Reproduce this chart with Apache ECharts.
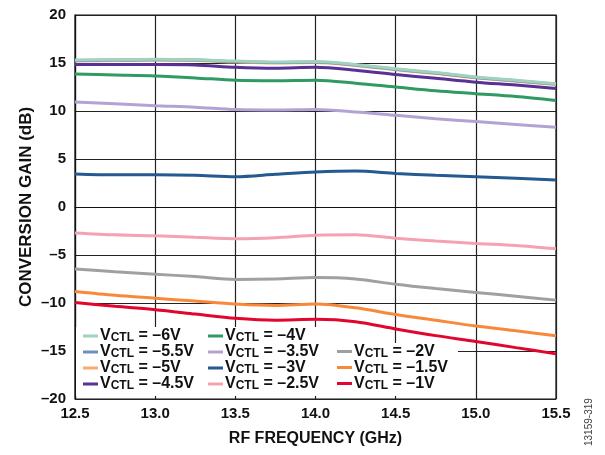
<!DOCTYPE html>
<html>
<head>
<meta charset="utf-8">
<script src="https://cdn.jsdelivr.net/npm/echarts@6/dist/echarts.min.js"></script>
<style>
  html, body { margin: 0; padding: 0; background: #fff; }
  #chart { width: 605px; height: 455px; }
</style>
</head>
<body>
<div id="chart"></div>
<script>
const freqs = [12.5, 12.75, 13.0, 13.25, 13.5, 13.75, 14.0, 14.25, 14.5, 14.75, 15.0, 15.25, 15.5];
const yTicks = [-20, -15, -10, -5, 0, 5, 10, 15, 20];

const gainM6 = [15.3, 15.35, 15.4, 15.35, 15.2, 15.1, 15.15, 14.85, 14.4, 14.0, 13.55, 13.2, 12.85];
const gainM55 = [15.25, 15.3, 15.35, 15.3, 15.15, 15.05, 15.1, 14.8, 14.35, 13.95, 13.5, 13.15, 12.8];
const gainM5 = [15.2, 15.25, 15.3, 15.25, 15.1, 15.0, 15.05, 14.75, 14.3, 13.9, 13.45, 13.1, 12.75];
const gainM45 = [14.85, 14.85, 14.85, 14.8, 14.55, 14.45, 14.55, 14.25, 13.8, 13.4, 13.0, 12.7, 12.35];
const gainM4 = [13.85, 13.75, 13.65, 13.45, 13.2, 13.15, 13.2, 12.9, 12.5, 12.1, 11.8, 11.5, 11.1];
const gainM35 = [10.95, 10.75, 10.55, 10.4, 10.15, 10.1, 10.15, 9.9, 9.55, 9.2, 8.9, 8.6, 8.3];
const gainM3 = [3.45, 3.35, 3.35, 3.3, 3.15, 3.4, 3.65, 3.75, 3.5, 3.3, 3.15, 3.0, 2.8];
const gainM25 = [-2.7, -2.9, -3.0, -3.15, -3.3, -3.2, -2.95, -2.9, -3.25, -3.55, -3.8, -4.0, -4.35];
const gainM2 = [-6.45, -6.75, -7.0, -7.25, -7.55, -7.5, -7.35, -7.5, -8.05, -8.5, -8.9, -9.3, -9.7];
const gainM15 = [-8.8, -9.2, -9.5, -9.8, -10.1, -10.25, -10.1, -10.5, -11.2, -11.8, -12.4, -12.9, -13.4];
const gainM1 = [-9.95, -10.35, -10.7, -11.15, -11.6, -11.8, -11.7, -11.95, -12.7, -13.4, -14.0, -14.65, -15.3];

const seriesDefs = [
    { name: "–6V", data: gainM6, color: "#9fd3bd" },
    { name: "–5.5V", data: gainM55, color: "#6e8fba" },
    { name: "–5V", data: gainM5, color: "#fbaa6e" },
    { name: "–4.5V", data: gainM45, color: "#573196" },
    { name: "–4V", data: gainM4, color: "#2f9a62" },
    { name: "–3.5V", data: gainM35, color: "#b3a3d4" },
    { name: "–3V", data: gainM3, color: "#245a8f" },
    { name: "–2.5V", data: gainM25, color: "#f4a1b2" },
    { name: "–2V", data: gainM2, color: "#a0a0a0" },
    { name: "–1.5V", data: gainM15, color: "#f8893a" },
    { name: "–1V", data: gainM1, color: "#e0062e" }
];

const FONT = "Liberation Sans, Arial, sans-serif";

const chart = echarts.init(document.getElementById("chart"));

function legendBlock(names, left, top) {
    return {
        data: names,
        orient: "vertical",
        left: left,
        top: top,
        padding: 0,
        itemGap: 0,
        icon: "rect",
        itemWidth: 15,
        itemHeight: 3,
        z: 10,
        formatter: function (name) {
            return "{v|V}{s|CTL}{t| = " + name + "}";
        },
        textStyle: {
            fontFamily: FONT,
            fontWeight: "bold",
            color: "#111",
            padding: [0, 0, 0, -3],
            rich: {
                v: { fontSize: 16, fontWeight: "bold", fontFamily: FONT, color: "#111", lineHeight: 15.5 },
                s: { fontSize: 12, fontWeight: "bold", fontFamily: FONT, color: "#111", lineHeight: 6, verticalAlign: "bottom" },
                t: { fontSize: 16, fontWeight: "bold", fontFamily: FONT, color: "#111", lineHeight: 15.5 }
            }
        }
    };
}

chart.setOption({
    animation: false,
    backgroundColor: "#fff",
    grid: {
        left: 75,
        right: 49,
        top: 15,
        bottom: 56,
        show: true,
        borderColor: "#111",
        borderWidth: 1.2,
        backgroundColor: "transparent"
    },
    legend: [
        legendBlock(["–6V", "–5.5V", "–5V", "–4.5V"], 83, 328),
        legendBlock(["–4V", "–3.5V", "–3V", "–2.5V"], 208, 328),
        legendBlock(["–2V", "–1.5V", "–1V"], 337, 343.5)
    ],
    graphic: [
        {
            type: "rect",
            z: 5,
            shape: { x: 76, y: 327, width: 256, height: 69 },
            style: { fill: "#fff" }
        },
        {
            type: "rect",
            z: 5,
            shape: { x: 330, y: 343, width: 128, height: 53 },
            style: { fill: "#fff" }
        },
        {
            type: "text",
            x: 584,
            y: 446,
            rotation: Math.PI / 2,
            style: {
                text: "13159-319",
                fontSize: 10,
                fontFamily: FONT,
                fill: "#444"
            }
        }
    ],
    xAxis: {
        type: "value",
        min: 12.5,
        max: 15.5,
        interval: 0.5,
        name: "RF FREQUENCY (GHz)",
        nameLocation: "middle",
        nameGap: 32,
        nameTextStyle: { fontFamily: FONT, fontWeight: "bold", fontSize: 16, color: "#111" },
        axisLine: { lineStyle: { color: "#111", width: 1.2 } },
        axisTick: { show: false },
        axisLabel: {
            fontFamily: FONT,
            fontWeight: "bold",
            fontSize: 15,
            color: "#111",
            margin: 7,
            formatter: function (v) { return v.toFixed(1); }
        },
        splitLine: { lineStyle: { color: "#222", width: 1.2 } }
    },
    yAxis: {
        type: "value",
        min: yTicks[0],
        max: yTicks[yTicks.length - 1],
        interval: 5,
        name: "CONVERSION GAIN (dB)",
        nameLocation: "middle",
        nameGap: 40,
        nameMoveOverlap: false,
        nameTextStyle: { fontFamily: FONT, fontWeight: "bold", fontSize: 17, color: "#111" },
        axisLine: { lineStyle: { color: "#111", width: 1.2 } },
        axisTick: { show: false },
        axisLabel: {
            fontFamily: FONT,
            fontWeight: "bold",
            fontSize: 15,
            color: "#111",
            margin: 9,
            formatter: function (v) { return String(v).replace("-", "–"); }
        },
        splitLine: { lineStyle: { color: "#222", width: 1.2 } }
    },
    series: seriesDefs.slice().reverse().map(function (s) {
        return {
            name: s.name,
            type: "line",
            data: freqs.map(function (f, i) { return [f, s.data[i]]; }),
            smooth: 0.3,
            symbol: "none",
            showSymbol: false,
            color: s.color,
            lineStyle: { width: 3, color: s.color },
            z: 3
        };
    })
});
</script>
</body>
</html>
